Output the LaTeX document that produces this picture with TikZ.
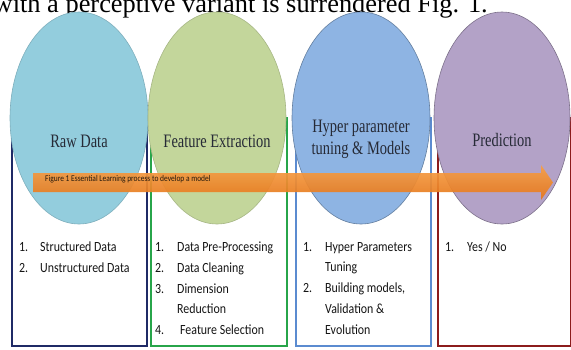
\documentclass[tikz,border=0pt]{standalone}
\usepackage{fontspec}
\newfontfamily\bodyserif{Liberation Serif}
\newfontfamily\stagefont[FakeStretch=0.76]{Liberation Serif}
\newfontfamily\listfont[FakeStretch=0.85]{Carlito}
\definecolor{rawblue}{HTML}{93CDDD}
\definecolor{featgreen}{HTML}{C3D69B}
\definecolor{tuneblue}{HTML}{8EB4E3}
\definecolor{predpurple}{HTML}{B3A2C7}
\definecolor{framenavy}{HTML}{1F2A66}
\definecolor{framegreen}{HTML}{27A54A}
\definecolor{frameblue}{HTML}{5B8BD0}
\definecolor{framered}{HTML}{8C1C1C}
\definecolor{arrowtop}{HTML}{F7A048}
\definecolor{arrowbot}{HTML}{E5761A}
\definecolor{stagetext}{HTML}{262A36}
\newcommand{\itemno}[1]{\makebox[22pt][l]{#1}}
\begin{document}
\begin{tikzpicture}[x=1pt,y=-1pt,
  stage/.style={font=\stagefont\fontsize{19}{22}\selectfont, text=stagetext, inner sep=0pt, align=center},
  steps/.style={font=\listfont\fontsize{14}{20.7}\selectfont, text=black!92, inner sep=0pt, align=left, anchor=north west},
  frame/.style={line width=2.2pt},
  bubble/.style={line width=0.6pt}]
\useasboundingbox (0,0) rectangle (571,349);
\clip (0,0) rectangle (571,349);
% Running text above the figure
\node[font=\bodyserif\fontsize{26.4}{30}\selectfont, anchor=base east, inner sep=0pt] (runin) at (488,12.5) {with a perceptive variant is surrendered Fig. 1.};
% Frames (tops hidden by the bubbles)
\draw[frame, framenavy] (12,118) rectangle (147,346);
\draw[frame, framegreen] (151,118) rectangle (287,346);
\draw[frame, frameblue] (296,118) rectangle (431,346);
\draw[frame, framered] (438,118) rectangle (571,346);
% Stage bubbles
\filldraw[bubble, fill=rawblue, draw=rawblue!85!black] (79,118) ellipse [x radius=69, y radius=106];
\filldraw[bubble, fill=featgreen, draw=featgreen!85!black] (217,118) ellipse [x radius=69, y radius=106];
\filldraw[bubble, fill=tuneblue, draw=tuneblue!70!black] (361,118) ellipse [x radius=69, y radius=106];
\filldraw[bubble, fill=predpurple, draw=predpurple!70!black] (502,118) ellipse [x radius=68, y radius=106];
% Process arrow
\shade[top color=arrowtop, bottom color=arrowbot, opacity=0.93]
  (33,173) -- (541,173) -- (541,165) -- (553,182.5) -- (541,200) -- (541,192) -- (33,192) -- cycle;
\node[font=\listfont\fontsize{8.8}{10}\selectfont, text=black!80!brown, anchor=west, inner sep=0pt] (caption) at (45,179.5) {Figure 1 Essential Learning  process to develop a model};
% Stage names
\node[stage, anchor=base] (raw) at (79,147) {Raw Data};
\node[stage, anchor=base] (feature) at (217,147) {Feature Extraction};
\node[stage] (tuning) at (361,139) {Hyper parameter\\tuning \& Models};
\node[stage, anchor=base] (predict) at (502,146) {Prediction};
% Steps in each stage
\node[steps] (rawsteps) at (19,242) {\makebox[21pt][l]{1.}Structured Data\\\makebox[21pt][l]{2.}Unstructured Data};
\node[steps] (featsteps) at (155,242) {\itemno{1.}Data Pre-Processing\\\itemno{2.}Data Cleaning\\\itemno{3.}Dimension\\\itemno{}Reduction\\\itemno{4.}\hspace{3pt}Feature Selection};
\node[steps] (tunesteps) at (303,242) {\itemno{1.}Hyper Parameters\\\itemno{}Tuning\\\itemno{2.}Building models,\\\itemno{}Validation \&\\\itemno{}Evolution};
\node[steps] (predsteps) at (445,242) {\itemno{1.}Yes / No};
\end{tikzpicture}
\end{document}
